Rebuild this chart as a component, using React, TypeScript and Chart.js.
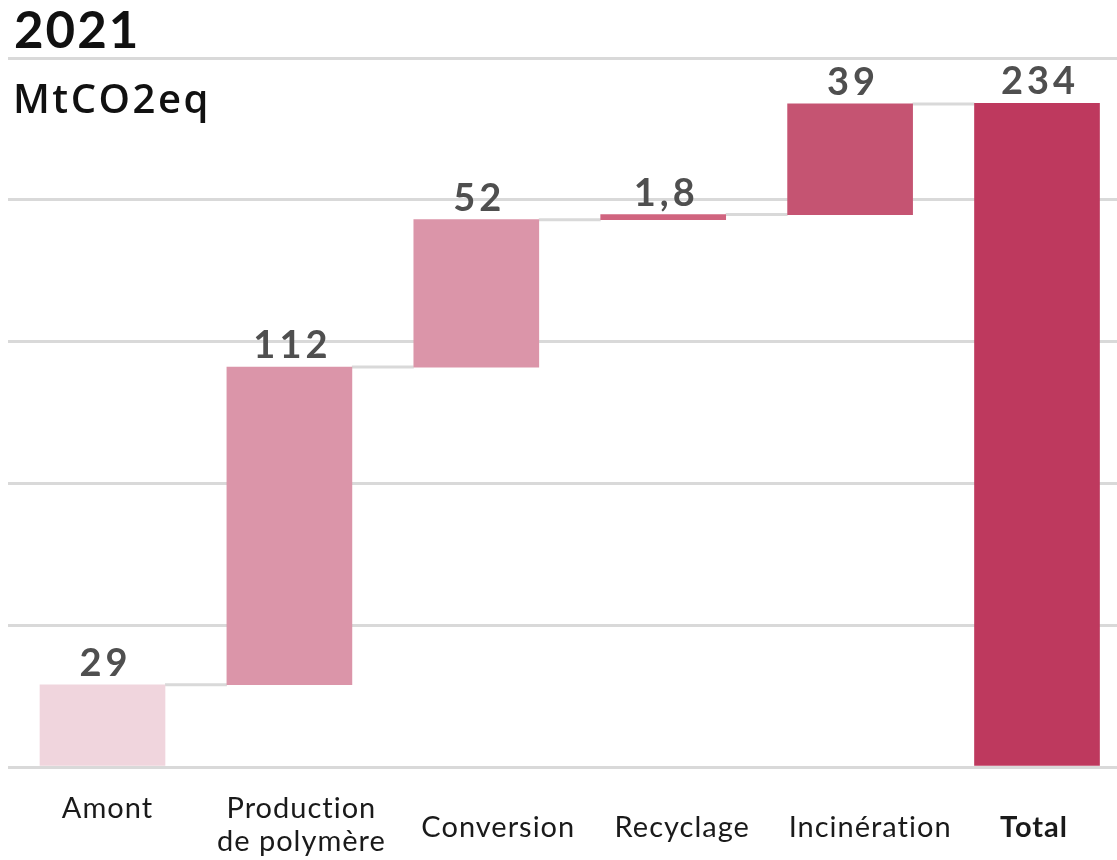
import React, { useEffect, useRef } from "react";
import { Chart, registerables } from "chart.js";

Chart.register(...registerables);

const title = "2021";
const unit = "MtCO2eq";
const categories: string[][] = [
  ["Amont"],
  ["Production", "de polymère"],
  ["Conversion"],
  ["Recyclage"],
  ["Incinération"],
  ["Total"],
];
const steps: number[] = [29, 112, 52, 1.8, 39];
const total = 234;
const colors = ["#f0d5dd", "#db95a9", "#db95a9", "#d0647f", "#c55472", "#be395e"];
const yTicks = [0, 50, 100, 150, 200, 250];

const ranges: [number, number][] = [];
let acc = 0;
for (const v of steps) {
  ranges.push([acc, acc + v]);
  acc += v;
}
ranges.push([0, total]);
const labelValues = [...steps, total];

const fmt = (v: number) => String(v).replace(".", ",");

const LABEL_FONT = "Lato, 'Open Sans', sans-serif";

const overlayPlugin = {
  id: "overlay",
  beforeDatasetsDraw(chart: any) {
    const ctx = chart.ctx;
    const meta = chart.getDatasetMeta(0);
    const ys = chart.scales.y;
    ctx.save();
    ctx.strokeStyle = "#d9d9d9";
    ctx.lineWidth = 3;
    for (let i = 0; i < meta.data.length - 1; i++) {
      const a = meta.data[i];
      const b = meta.data[i + 1];
      const y = ys.getPixelForValue(ranges[i][1]);
      ctx.beginPath();
      ctx.moveTo(a.x + a.width / 2, y);
      ctx.lineTo(b.x - b.width / 2, y);
      ctx.stroke();
    }
    ctx.restore();
  },
  afterDatasetsDraw(chart: any) {
    const ctx = chart.ctx;
    const meta = chart.getDatasetMeta(0);
    const ys = chart.scales.y;
    ctx.save();
    // value labels
    ctx.fillStyle = "#4f4f4f";
    ctx.textAlign = "center";
    ctx.textBaseline = "alphabetic";
    ctx.font = `bold 38px ${LABEL_FONT}`;
    (ctx as any).letterSpacing = "4px";
    meta.data.forEach((el: any, i: number) => {
      const top = ys.getPixelForValue(Math.max(ranges[i][0], ranges[i][1]));
      ctx.fillText(fmt(labelValues[i]), el.x + 3, top - 9);
    });
    // category labels
    const xOff = [5, 12, 22, 19, 20, -3];
    ctx.fillStyle = "#1a1a1a";
    ctx.textBaseline = "middle";
    (ctx as any).letterSpacing = "1px";
    meta.data.forEach((el: any, i: number) => {
      const lines = categories[i];
      ctx.font = i === 5 ? `bold 29px ${LABEL_FONT}` : `29px ${LABEL_FONT}`;
      const startY = lines.length > 1 || i === 0 ? 809 : 828;
      lines.forEach((ln, j) => {
        ctx.fillText(ln, el.x + xOff[i], startY + j * 33);
      });
    });
    // titles
    ctx.textAlign = "left";
    ctx.textBaseline = "alphabetic";
    ctx.fillStyle = "#111";
    (ctx as any).letterSpacing = "2px";
    ctx.font = `bold 51px ${LABEL_FONT}`;
    ctx.fillText(title, 14, 48);
    (ctx as any).letterSpacing = "2.5px";
    ctx.font = `600 40px 'Open Sans', sans-serif`;
    ctx.fillText(unit, 13, 113);
    (ctx as any).letterSpacing = "0px";
    ctx.restore();
  },
};

export default function App() {
  const ref = useRef<HTMLCanvasElement>(null);
  useEffect(() => {
    if (!ref.current) return;
    const chart = new Chart(ref.current, {
      type: "bar",
      data: {
        datasets: [
          {
            data: ranges.map((r, i) => ({ x: i, y: r })) as any,
            backgroundColor: colors,
            barThickness: 125,
            borderWidth: 0,
          },
        ],
      },
      options: {
        animation: false,
        responsive: true,
        maintainAspectRatio: false,
        layout: { padding: { top: 58, bottom: 93, left: 8, right: 0 } },
        plugins: { legend: { display: false }, tooltip: { enabled: false } },
        scales: {
          x: {
            type: "linear",
            offset: false,
            min: -0.5056,
            max: 5.428,
            grid: { display: false, drawTicks: false },
            border: { display: false },
            ticks: { display: false },
          },
          y: {
            min: 0,
            max: 250,
            afterBuildTicks: (s: any) => {
              s.ticks = yTicks.map((v) => ({ value: v }));
            },
            grid: { color: "#d9d9d9", lineWidth: 3, drawTicks: false },
            border: { display: false },
            ticks: { display: false },
          },
        },
      },
      plugins: [overlayPlugin],
    });
    return () => chart.destroy();
  }, []);
  return (
    <div style={{ position: "fixed", left: 0, top: 0, width: 1117, height: 860, background: "#fff" }}>
      <canvas ref={ref} />
    </div>
  );
}
